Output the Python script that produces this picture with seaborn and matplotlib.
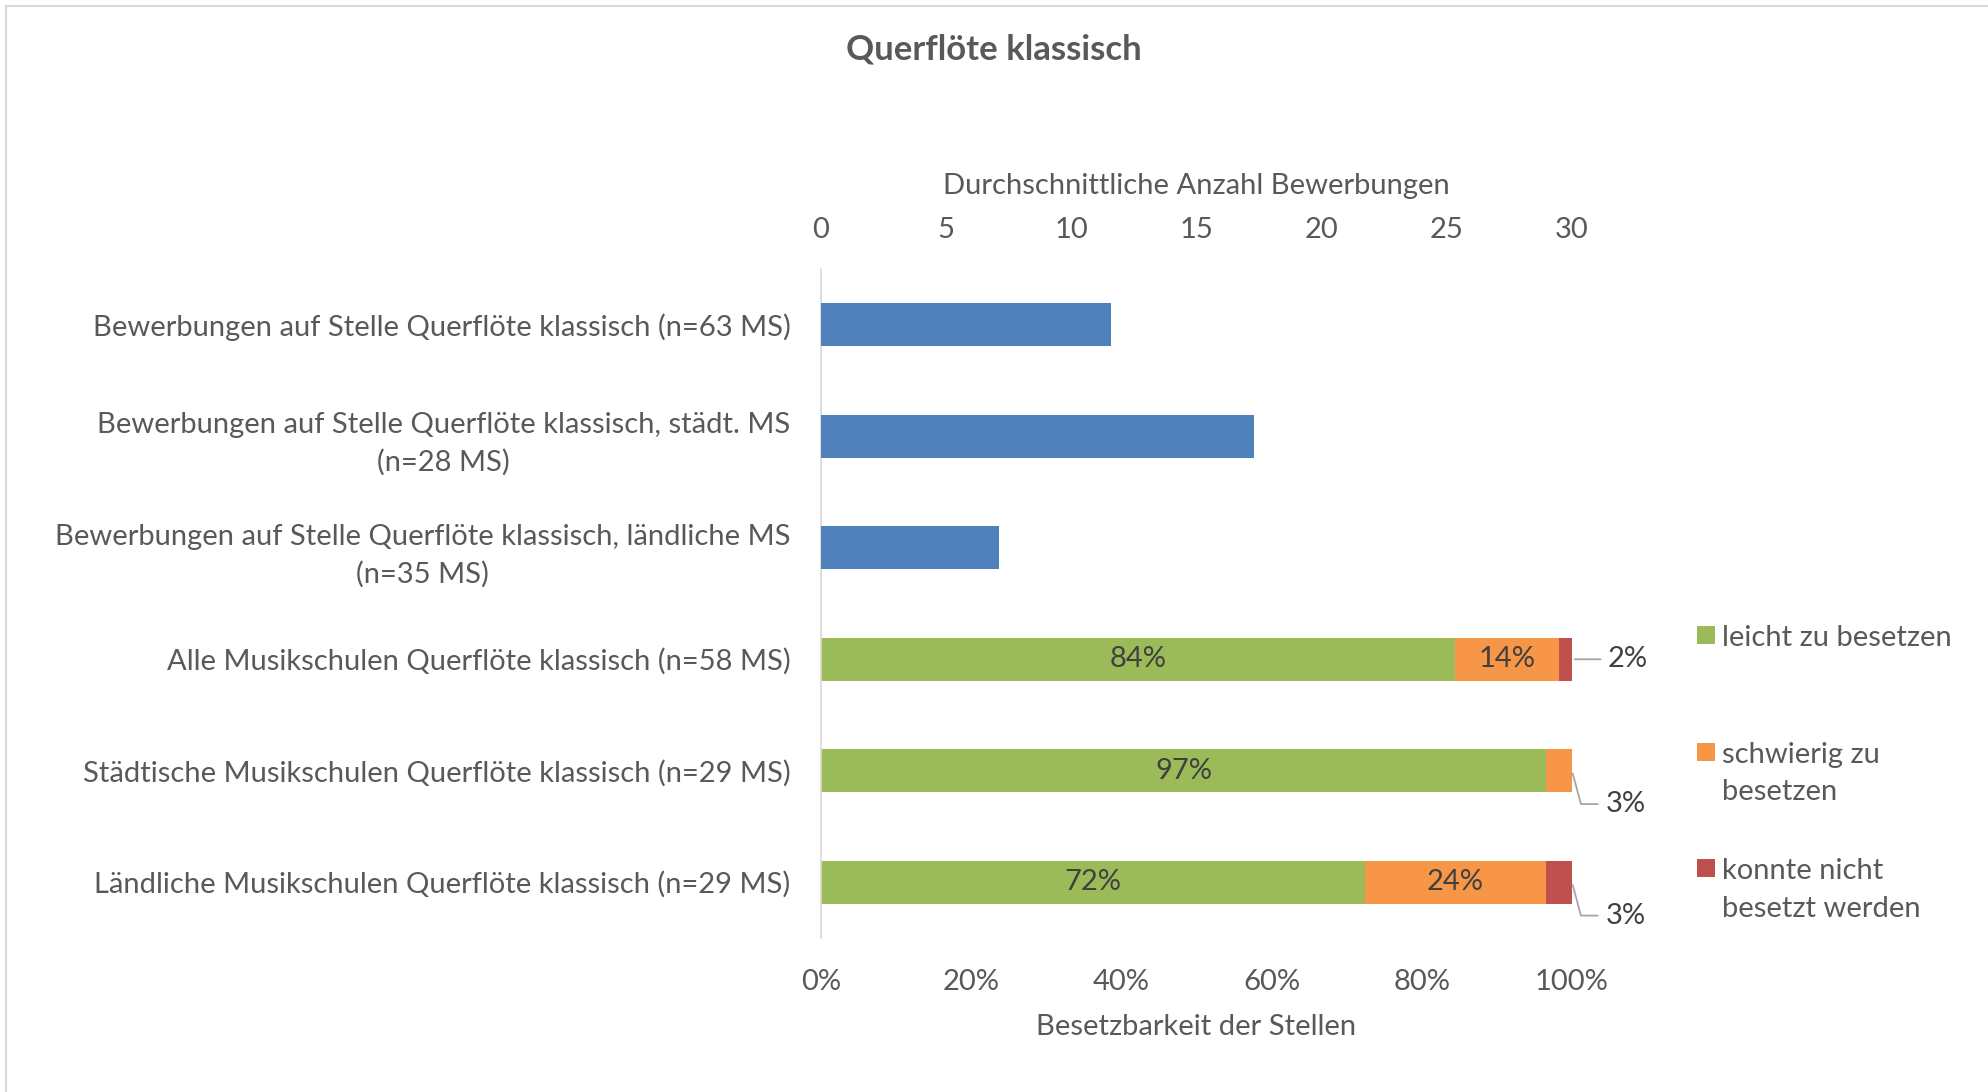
import matplotlib
matplotlib.use("Agg")
import matplotlib.pyplot as plt
from matplotlib.patches import Rectangle
import seaborn as sns

# --- data -------------------------------------------------------------
categories = [
    "Bewerbungen auf Stelle Querflöte klassisch (n=63 MS)",
    "Bewerbungen auf Stelle Querflöte klassisch, städt. MS\n(n=28 MS)",
    "Bewerbungen auf Stelle Querflöte klassisch, ländliche MS\n(n=35 MS)",
    "Alle Musikschulen Querflöte klassisch (n=58 MS)",
    "Städtische Musikschulen Querflöte klassisch (n=29 MS)",
    "Ländliche Musikschulen Querflöte klassisch (n=29 MS)",
]

# durchschnittliche Anzahl Bewerbungen (obere Achse)
count_cats = categories[:3]
avg_bewerbungen = [11.6, 17.3, 7.1]

# Besetzbarkeit in % (untere Achse)
share_cats = categories[3:]
leicht = [84.4, 96.6, 72.4]
schwierig = [13.9, 3.4, 24.2]
nicht = [1.7, 0.0, 3.4]
series_names = ["leicht zu besetzen", "schwierig zu\nbesetzen", "konnte nicht\nbesetzt werden"]

count_ticks = [0, 5, 10, 15, 20, 25, 30]
pct_ticks = [0, 20, 40, 60, 80, 100]

# --- style ------------------------------------------------------------
BLUE, GREEN, ORANGE, RED = "#4F81BD", "#9BBB59", "#F79646", "#C0504D"
TXT = "#595959"
FS = 21

sns.set_theme(style="white")
plt.rcParams["font.family"] = ["Lato", "DejaVu Sans"]
plt.rcParams["text.color"] = TXT

fig = plt.figure(figsize=(19.88, 10.92), dpi=100)
W, H = 1988, 1092
ax = fig.add_axes([821 / W, 1 - 938 / H, (1572 - 821) / W, (938 - 269) / H])
ax2 = ax.twiny()

# stacked bars via cumulative layers
cum1 = leicht
cum2 = [a + b for a, b in zip(leicht, schwierig)]
cum3 = [a + b + c for a, b, c in zip(leicht, schwierig, nicht)]
for vals, col in [(cum3, RED), (cum2, ORANGE), (cum1, GREEN)]:
    sns.barplot(x=vals, y=share_cats, order=categories, color=col, saturation=1,
                width=0.39, orient="h", linewidth=0, ax=ax)

sns.barplot(x=avg_bewerbungen, y=count_cats, order=categories, color=BLUE, saturation=1,
            width=0.39, orient="h", linewidth=0, ax=ax2)

ax.set_ylim(5.5, -0.5)
ax.set_yticks(range(len(categories)))
ax.set_yticklabels(categories)
for lbl in ax.get_yticklabels():
    lbl.set_multialignment("center")
    lbl.set_linespacing(1.5)

ax.set_xlim(0, 100)
ax.set_xticks(pct_ticks)
ax.set_xticklabels([f"{t}%" for t in pct_ticks])
ax2.set_xlim(0, 30)
ax2.set_xticks(count_ticks)
ax2.set_xticklabels([str(t) for t in count_ticks])

ax.tick_params(axis="y", length=0, pad=22, labelsize=FS, labelcolor=TXT)
ax.tick_params(axis="x", length=0, pad=22, labelsize=FS, labelcolor=TXT)
ax2.tick_params(axis="x", length=0, pad=19, labelsize=FS, labelcolor=TXT)
ax.set_xlabel("Besetzbarkeit der Stellen", fontsize=FS, color=TXT, labelpad=14)
ax2.set_xlabel("Durchschnittliche Anzahl Bewerbungen", fontsize=FS, color=TXT, labelpad=16)
ax.set_ylabel("")
ax2.set_ylabel("")

for a in (ax, ax2):
    for s in a.spines.values():
        s.set_visible(False)
ax.spines["left"].set_visible(True)
ax.spines["left"].set_color("#d9d9d9")
ax.spines["left"].set_linewidth(1.2)
ax.grid(False)
ax2.grid(False)

# data labels
LBL = "#404040"
outside_offsets = {0: (26, 0), 1: (24, -24), 2: (24, -24)}
for i, row in enumerate([leicht, schwierig, nicht]):
    for j, v in enumerate(row):
        if v <= 0:
            continue
        y = 3 + j
        left = sum(r[j] for r in [leicht, schwierig, nicht][:i])
        if v >= 5:
            ax.text(left + v / 2, y, f"{v:.0f}%", ha="center", va="center",
                    fontsize=FS, color=LBL, zorder=5)
        else:
            dx, dy = outside_offsets[j]
            cs = "arc3" if dy == 0 else "angle,angleA=0,angleB=-75,rad=0"
            ax.annotate(f"{v:.0f}%", xy=(left + v, y), xytext=(dx, dy),
                        textcoords="offset points", ha="left", va="center",
                        fontsize=FS, color=LBL, annotation_clip=False,
                        arrowprops=dict(arrowstyle="-", color="#a6a6a6", lw=1.3,
                                        connectionstyle=cs, relpos=(0, 0.5),
                                        shrinkA=3, shrinkB=2))

# legend (square aligned with first line of each entry)
for k, (name, col) in enumerate(zip(series_names, [GREEN, ORANGE, RED])):
    yc = 635 + k * 116.5
    fig.add_artist(Rectangle((1697 / W, 1 - (yc + 9) / H), 18 / W, 18 / H,
                             transform=fig.transFigure, color=col, lw=0))
    fig.text(1722 / W, 1 - (yc - 10) / H, name, fontsize=FS, color=TXT,
             ha="left", va="top", linespacing=1.55)

fig.suptitle("Querflöte klassisch", x=0.5, y=1 - 49 / H, va="center",
             fontsize=25, fontweight="bold", color=TXT)

# chart frame
fig.add_artist(plt.Line2D([6 / W, 6 / W], [0, 1 - 6 / H], transform=fig.transFigure,
                          color="#d9d9d9", lw=1.5))
fig.add_artist(plt.Line2D([6 / W, 1], [1 - 6 / H, 1 - 6 / H], transform=fig.transFigure,
                          color="#d9d9d9", lw=1.5))

fig.savefig("out.png", dpi=100)
